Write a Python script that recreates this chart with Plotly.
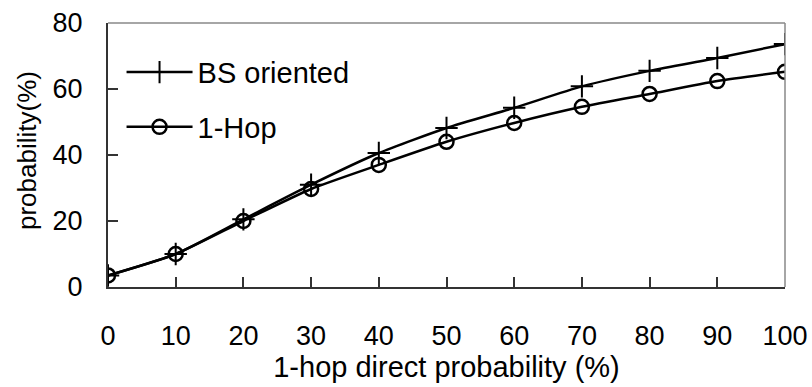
import plotly.graph_objects as go

x_vals = [0, 10, 20, 30, 40, 50, 60, 70, 80, 90, 100]
bs_oriented = [3.5, 10, 20.5, 31, 40.6, 48.2, 54.3, 60.8, 65.5, 69.4, 73.6]
one_hop = [3.5, 10, 20, 29.7, 37, 44, 49.7, 54.6, 58.5, 62.4, 65.2]

FONT = "Liberation Sans, Arial, sans-serif"
FS = 27

fig = go.Figure()
fig.add_trace(go.Scatter(
    x=x_vals, y=bs_oriented, name="BS oriented", mode="lines+markers", legendgroup="a",
    line=dict(color="black", width=2.5, shape="spline", smoothing=0.6),
    marker=dict(symbol="cross-thin", size=16, line=dict(color="black", width=2)),
))
fig.add_trace(go.Scatter(
    x=x_vals, y=one_hop, name="1-Hop", mode="lines+markers", legendgroup="b",
    line=dict(color="black", width=2.5, shape="spline", smoothing=0.6),
    marker=dict(symbol="circle-open", size=14, color="black", line=dict(color="black", width=2.5)),
))

fig.update_layout(
    width=812, height=387,
    margin=dict(l=108, r=27, t=23, b=100),
    paper_bgcolor="white", plot_bgcolor="white",
    font=dict(family=FONT, size=FS, color="black"),
    showlegend=True,
    legend=dict(x=0.02, y=0.91, xanchor="left", yanchor="top",
                bgcolor="rgba(0,0,0,0)", itemwidth=66,
                font=dict(size=29), tracegroupgap=14),
    xaxis=dict(range=[0, 100], tickvals=x_vals, ticks="inside", ticklen=10,
               tickcolor="#333", tickwidth=1.5, showgrid=False, zeroline=False,
               showline=True, linecolor="#333", linewidth=2, mirror=False,
               ticklabelstandoff=24, automargin=False, ticklabeloverflow="allow",
               title=dict(text="1-hop direct probability (%)", standoff=4,
                          font=dict(size=29))),
    yaxis=dict(range=[0, 80], tickvals=[0, 20, 40, 60, 80], ticks="inside", ticklen=10,
               tickcolor="#333", tickwidth=1.5, showgrid=False, zeroline=False,
               showline=True, linecolor="#333", linewidth=2,
               ticklabelstandoff=18, automargin=False, ticklabeloverflow="allow"),
    annotations=[
        dict(text="probability(%)", xref="paper", yref="paper", x=0, y=0.5,
             xanchor="center", yanchor="middle", xshift=-81, yshift=4,
             textangle=-90, showarrow=False, font=dict(size=26)),
    ],
    shapes=[
        dict(type="line", xref="paper", yref="paper", x0=0, x1=1, y0=1, y1=1,
             line=dict(color="#888", width=1.5)),
        dict(type="line", xref="paper", yref="paper", x0=1, x1=1, y0=0, y1=1,
             line=dict(color="#888", width=1.5)),
    ],
)

fig.write_html(
    "out.html",
    config={"displayModeBar": False},
    post_script="document.body.style.margin='0';document.body.style.overflow='hidden';",
)
